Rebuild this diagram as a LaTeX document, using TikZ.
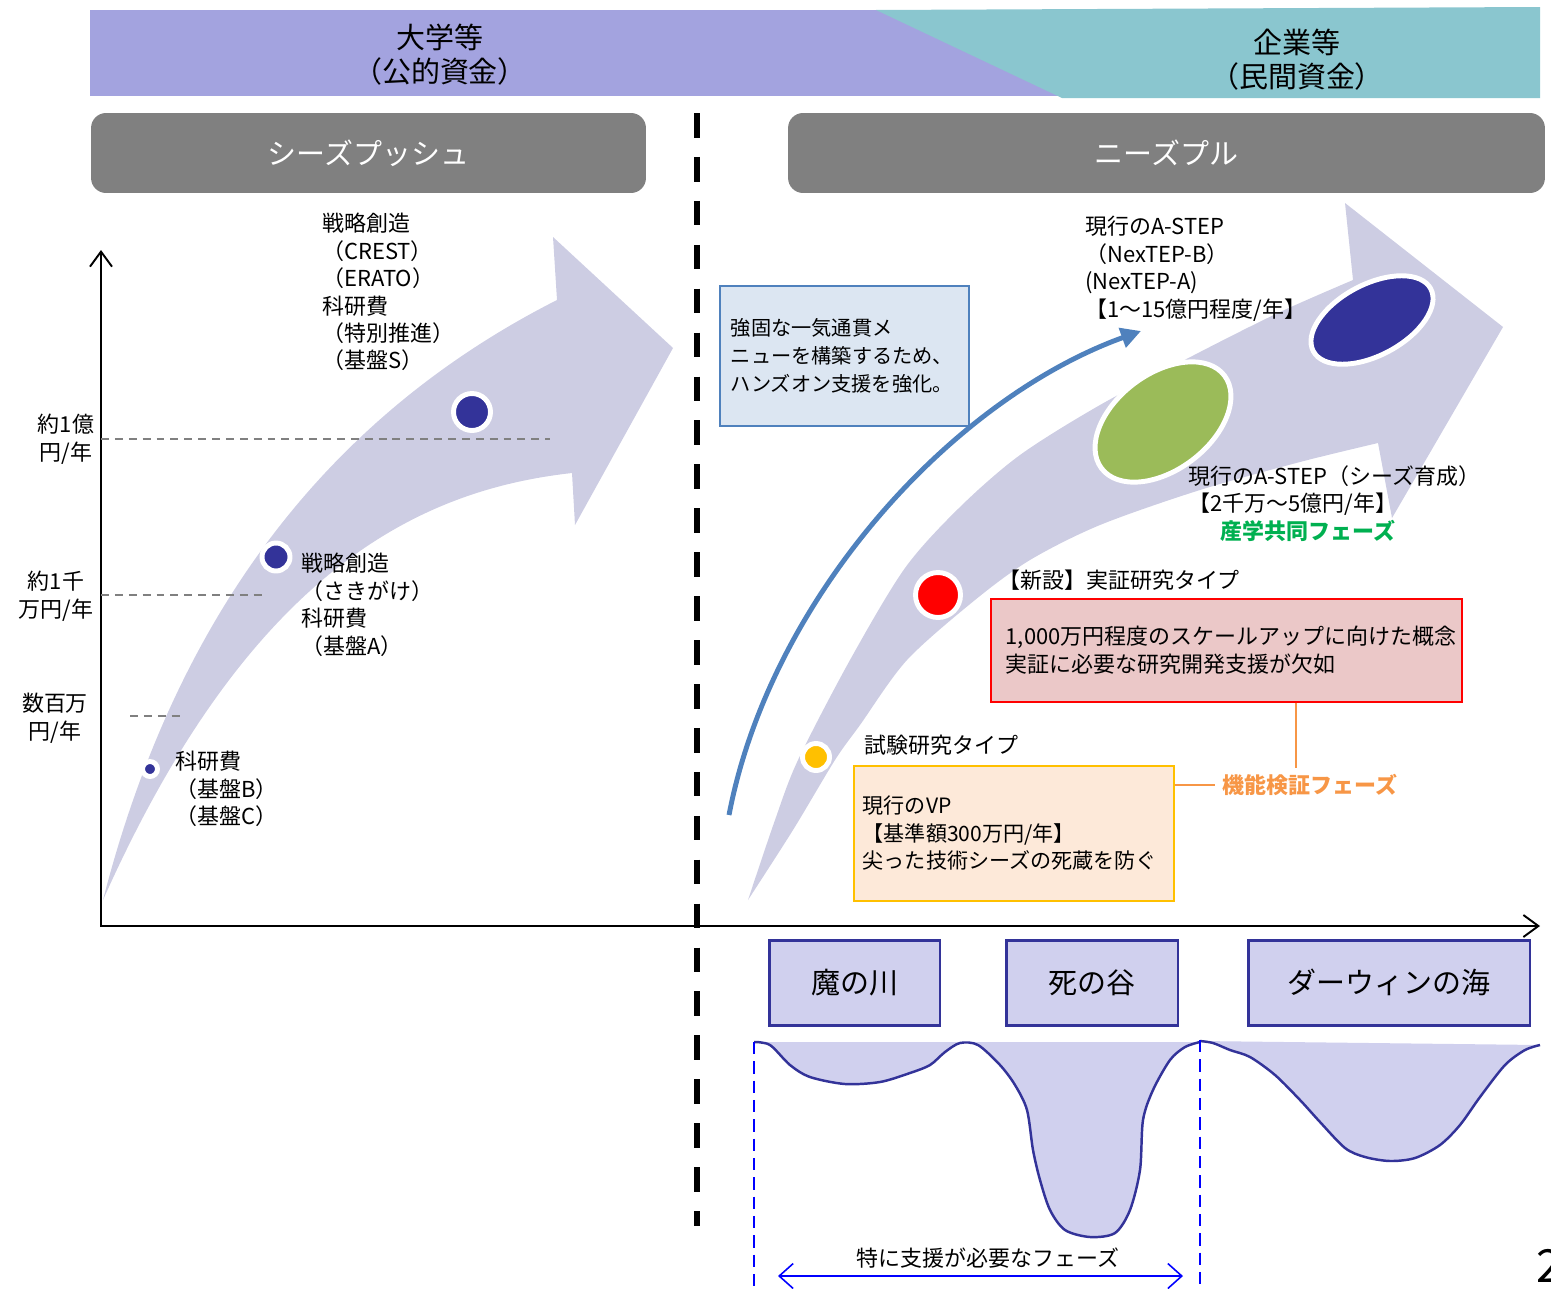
\documentclass[tikz,border=0pt]{standalone}
\usepackage{fontspec}
\setmainfont{Noto Sans CJK JP}
\usepackage{tikz}
\usetikzlibrary{arrows.meta,positioning,calc}
\definecolor{pubfund}{HTML}{A3A3DF}
\definecolor{privfund}{HTML}{8AC6CF}
\definecolor{hdrgray}{HTML}{808080}
\definecolor{flowlav}{HTML}{CDCDE3}
\definecolor{navy}{HTML}{333399}
\definecolor{leaf}{HTML}{9BBB59}
\definecolor{amber}{HTML}{FFC000}
\definecolor{steel}{HTML}{4F81BD}
\definecolor{icefill}{HTML}{DCE6F2}
\definecolor{rosefill}{HTML}{EBC8C8}
\definecolor{peach}{HTML}{FDE9D9}
\definecolor{jointgreen}{HTML}{00B050}
\definecolor{tapor}{HTML}{F79646}
\definecolor{gaplav}{HTML}{D0D0EE}
\newcommand{\bodyfont}{\fontsize{12.5}{15.6}\selectfont}
\newcommand{\headfont}{\fontsize{16.5}{19.5}\selectfont}
\tikzset{
  bannertxt/.style={font=\headfont, align=center, inner sep=0pt},
  hdrbar/.style={fill=hdrgray, rounded corners=0.3cm, minimum height=1.6cm,
              text=white, font=\headfont, inner sep=0pt},
  divider/.style={line width=3.4pt, dash pattern=on 14pt off 11pt},
  axis/.style={line width=1.1pt,
              {Straight Barb[length=3mm,width=4.4mm]}-{Straight Barb[length=3mm,width=4.4mm]}},
  lvl/.style={draw=hdrgray, line width=0.8pt, dash pattern=on 4.5pt off 3.4pt},
  ring/.style={draw=white, line width=2.8pt},
  txtblk/.style={font=\bodyfont, align=left, inner sep=0pt, anchor=north west},
  lbl/.style={font=\bodyfont, inner sep=0pt, anchor=west},
  infobox/.style={line width=0.9pt, font=\bodyfont, align=left, inner ysep=0pt,
              anchor=north west},
  handson/.style={steel, line width=2.8pt, -{Triangle[length=4mm,width=4mm]}},
  tap/.style={tapor, line width=1.1pt},
  gapbox/.style={draw=navy, fill=gaplav, line width=1.7pt, minimum height=1.7cm,
              font=\headfont, inner sep=0pt},
  rim/.style={draw=navy, fill=gaplav, line width=1.4pt},
  spanline/.style={draw=blue, line width=1pt, dash pattern=on 7pt off 4pt},
  spanarrow/.style={blue, line width=0.9pt,
              {Straight Barb[length=2.8mm,width=5mm]}-{Straight Barb[length=2.8mm,width=5mm]}},
}
\begin{document}
\begin{tikzpicture}[x=0.02cm, y=-0.02cm]
  \useasboundingbox (0,0) rectangle (1551,1288);

  % funding banner
  \fill[pubfund] (90,10) rectangle (1062,96);
  \fill[privfund] (876,10) -- (1540,7) -- (1540,98) -- (1062,98) -- cycle;
  \node[bannertxt] (pub) at (440,55) {大学等\\（公的資金）};
  \node[bannertxt] (priv) at (1297,60) {企業等\\（民間資金）};

  % phase headers
  \node[hdrbar, minimum width=11.1cm] (push) at (368.5,153) {シーズプッシュ};
  \node[hdrbar, minimum width=15.14cm] (pull) at (1166.5,153) {ニーズプル};

  % flows
  \fill[flowlav] (103,900) .. controls (180,600) and (340,410) .. (557,300)
    -- (553,237) -- (673,348) -- (575,525) -- (572,473)
    .. controls (420,490) and (250,570) .. (103,900) -- cycle;
  \fill[flowlav] plot[smooth] coordinates {(748,900) (775,820) (798,760) (850,660)
      (905,568) (960,507) (1020,455) (1100,405) (1200,352) (1280,312) (1353,280)}
    -- (1345,203) -- (1503,327) -- (1392,518) -- (1378,443)
    -- plot[smooth] coordinates {(1378,443) (1300,462) (1200,490) (1100,525)
      (1030,560) (975,600) (907,660) (860,725) (835,760) (793,830) (748,900)} -- cycle;

  % divider and axes
  \draw[divider] (697,113) -- (697,1226);
  \draw[axis] (101,250) -- (101,926) -- (1540,926);
  \draw[lvl] (101,439) -- (550,439);
  \draw[lvl] (101,595) -- (263,595);
  \draw[lvl] (130,716) -- (185,716);

  % hands-on arrow
  \coordinate (hsA) at (729,815);
  \coordinate (hsB) at (1141,331);
  \draw[handson] (hsA) .. controls (770,600) and (950,400) .. (hsB);

  % programme markers
  \filldraw[ring, fill=navy] (472,412) circle[radius=18.5];
  \filldraw[ring, fill=navy] (276,557) circle[radius=14];
  \filldraw[ring, fill=navy] (150,769) circle[radius=7.5];
  \filldraw[ring, fill=red] (938,595) circle[radius=22.5];
  \filldraw[ring, fill=amber] (816,757) circle[radius=13.5];
  \filldraw[ring, fill=leaf, rotate around={37:(1163,422)}]
    (1163,422) ellipse[x radius=77, y radius=48];
  \filldraw[ring, fill=navy, rotate around={28:(1372,320)}]
    (1372,320) ellipse[x radius=66.5, y radius=35.5];

  % axis labels
  \node[txtblk, anchor=north, align=center] (oku) at (66,414) {約1億\\円/年};
  \node[txtblk, anchor=north, align=center] (senman) at (56,571) {約1千\\万円/年};
  \node[txtblk, anchor=north, align=center] (hyakuman) at (55,693) {数百万\\円/年};

  % seeds push programmes
  \node[txtblk] (crestlst) at (322,213) {戦略創造\\（CREST）\\（ERATO）\\科研費\\（特別推進）\\（基盤S）};
  \node[txtblk] (presto) at (301,553) {戦略創造\\（さきがけ）\\科研費\\（基盤A）};
  \node[txtblk] (kakenbc) at (175,751) {科研費\\（基盤B）\\（基盤C）};

  % needs pull programmes
  \node[infobox, draw=steel, fill=icefill, font=\fontsize{11.5}{15.9}\selectfont,
        text width=4.54cm, inner xsep=0.22cm, minimum height=2.8cm] (handsonbox) at (719,285)
        {強固な一気通貫メ\\ニューを構築するため、\\ハンズオン支援を強化。};
  \node[txtblk] (nextep) at (1085,216) {現行のA-STEP\\（NexTEP-B）\\(NexTEP-A)\\【1～15億円程度/年】};
  \node[txtblk] (seedlst) at (1188,465) {現行のA-STEP（シーズ育成）\\【2千万～5億円/年】};
  \node[lbl, text=jointgreen, font=\bodyfont\bfseries] (jointlbl) at (1220,531) {産学共同フェーズ};
  \node[lbl] (newtype) at (998,580) {【新設】実証研究タイプ};
  \node[infobox, draw=red, fill=rosefill, text width=8.82cm, inner xsep=0.3cm,
        minimum height=2.06cm] (rosebox) at (990,598)
        {1,000万円程度のスケールアップに向けた概念\\実証に必要な研究開発支援が欠如};
  \node[lbl] (trialtype) at (864,745) {試験研究タイプ};
  \node[infobox, draw=amber, fill=peach, font=\fontsize{12}{15.6}\selectfont,
        text width=6.04cm, inner xsep=0.18cm, minimum height=2.7cm] (vpbox) at (853,765)
        {現行のVP\\【基準額300万円/年】\\尖った技術シーズの死蔵を防ぐ};
  \node[lbl, text=tapor, font=\bodyfont\bfseries, inner xsep=0.14cm] (phaselbl) at (1215,785) {機能検証フェーズ};
  \coordinate (tapEnd) at (1296,768);
  \draw[tap] (tapEnd |- rosebox.south) -- (tapEnd);
  \draw[tap] (vpbox.east |- phaselbl.west) -- (phaselbl.west);

  % gaps
  \node[gapbox, minimum width=3.42cm] (riverbox) at (854.5,982.5) {魔の川};
  \node[gapbox, minimum width=3.44cm] (deathbox) at (1092,982.5) {死の谷};
  \node[gapbox, minimum width=5.64cm] (seabox) at (1389,982.5) {ダーウィンの海};
  \draw[rim] plot[smooth] coordinates {(754,1042) (770,1045) (790,1065) (810,1077)
    (845,1084) (880,1082) (910,1073) (930,1065) (945,1052) (960,1043) (978,1045)
    (1000,1065) (1015,1085) (1027,1110) (1033,1150) (1040,1180) (1050,1210) (1065,1230)
    (1090,1237) (1115,1233) (1130,1210) (1140,1170) (1143,1120) (1153,1090) (1170,1060)
    (1185,1047) (1200,1042)};
  \draw[rim] plot[smooth] coordinates {(1200,1041) (1213,1043) (1230,1050) (1250,1057)
    (1275,1075) (1300,1100) (1320,1122) (1345,1148) (1365,1157) (1390,1161) (1415,1158)
    (1440,1145) (1460,1125) (1480,1097) (1505,1065) (1525,1050) (1540,1045)};

  % key support span
  \draw[spanline] (754,1042) -- (754,1288);
  \draw[spanline] (1200,1040) -- (1200,1288);
  \node[lbl, anchor=center] (needlbl) at (988,1258) {特に支援が必要なフェーズ};
  \coordinate (spanL) at (778,1276);
  \coordinate (spanR) at (1183,1276);
  \draw[spanarrow] (spanL) -- (spanR);

  \node[font=\fontsize{26}{30}\selectfont, anchor=base west, inner sep=0pt] (pgno) at (1536,1282) {2};
\end{tikzpicture}
\end{document}
